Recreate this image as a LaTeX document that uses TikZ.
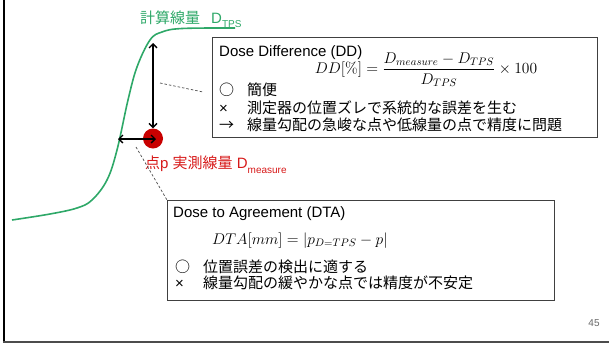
\documentclass[tikz,border=0pt]{standalone}
\usepackage{fix-cm}
\usepackage{amsmath}
\usepackage[no-math]{fontspec}
\setmainfont{Liberation Sans}
\newfontfamily\jp{Noto Sans CJK JP}
\usetikzlibrary{arrows.meta}
\definecolor{curvegreen}{RGB}{46,168,104}
\definecolor{ptred}{RGB}{200,0,0}
\definecolor{txtred}{RGB}{215,25,25}
\definecolor{boxgray}{RGB}{64,64,64}
\newcommand\subtxt[1]{\raisebox{-0.3em}{\fontsize{10}{10}\selectfont #1}}
\newcommand\bul[1]{\makebox[28pt][l]{#1}}
\begin{document}
\begin{tikzpicture}[x=1pt,y=-1pt,
  txt/.style={inner sep=0pt, anchor=base west, font=\fontsize{15}{18}\selectfont},
  mathtxt/.style={inner sep=0pt, anchor=base west, font=\fontsize{15.5}{18}\selectfont},
  infobox/.style={draw=boxgray, line width=1.3pt, anchor=north west, inner sep=0pt},
  guide/.style={draw=gray!60!black, line width=0.7pt, dash pattern=on 2.5pt off 2pt},
  dblarrow/.style={line width=1.4pt, {Straight Barb[length=4pt,width=8pt]}-{Straight Barb[length=4pt,width=8pt]}}
]
\useasboundingbox (0,0) rectangle (609,343);
% slide frame
\draw[line width=2.5pt] (4,0) -- (4,343);
\draw[line width=1.5pt, draw=gray!60!black] (3,342) -- (609,342);
% calculated dose curve
\draw[curvegreen, line width=1.6pt] plot[smooth, tension=0.6] coordinates {(12,220) (50,214) (77,208) (92,200) (107,180) (117,150) (128,100) (137,67) (150,40) (162,32) (182,28.5) (235,28)};
\node[txt, text=curvegreen] (tps) at (140,23) {{\jp 計算線量}\hspace{11pt}D\subtxt{TPS}};
% measured point
\node[circle, fill=ptred, minimum size=20pt, inner sep=0pt] (p) at (153,138.5) {};
\coordinate (vtop) at (153,43);
\coordinate (hleft) at (118,139);
\coordinate (hright) at (156,139);
\draw[dblarrow] (vtop) -- (p.north);
\draw[dblarrow] (hleft) -- (hright);
\node[txt, text=txtred] (plabel) at (145,168.5) {{\jp 点}p {\jp 実測線量} D\subtxt{measure}};
% DD box
\node[infobox, minimum width=385pt, minimum height=100pt] (dd) at (212,37) {};
\node[txt] (ddtitle) at (219,56) {Dose Difference (DD)};
\node[mathtxt, anchor=base] (ddformula) at (426,73.5) {$DD[\%] = \dfrac{D_{measure}-D_{TPS}}{D_{TPS}}\times 100$};
\node[txt] (dd1) at (219,95.5) {\bul{\jp ○}\jp 簡便};
\node[txt] (dd2) at (219,113.5) {\bul{×}\jp 測定器の位置ズレで系統的な誤差を生む};
\node[txt] (dd3) at (219,130) {\bul{\jp →}\jp 線量勾配の急峻な点や低線量の点で精度に問題};
% DTA box
\node[infobox, minimum width=387pt, minimum height=100pt] (dta) at (167,200) {};
\node[txt] (dtatitle) at (173,217.5) {Dose to Agreement (DTA)};
\node[mathtxt] (dtaformula) at (212,244) {$DTA[mm] = |p_{D=TPS} - p|$};
\node[txt] (dta1) at (175,272.5) {\bul{\jp ○}\jp 位置誤差の検出に適する};
\node[txt] (dta2) at (175,288.5) {\bul{×}\jp 線量勾配の緩やかな点では精度が不安定};
% guide lines
\coordinate (g1a) at (160,83);
\coordinate (g1b) at (203,92);
\coordinate (g2a) at (136,147);
\draw[guide] (g1a) -- (g1b);
\draw[guide] (g2a) -- (dta.north west);
% page number
\node[inner sep=0pt, font=\fontsize{10}{10}\selectfont, text=gray!80!black] (page) at (594,323) {45};
\end{tikzpicture}
\end{document}
